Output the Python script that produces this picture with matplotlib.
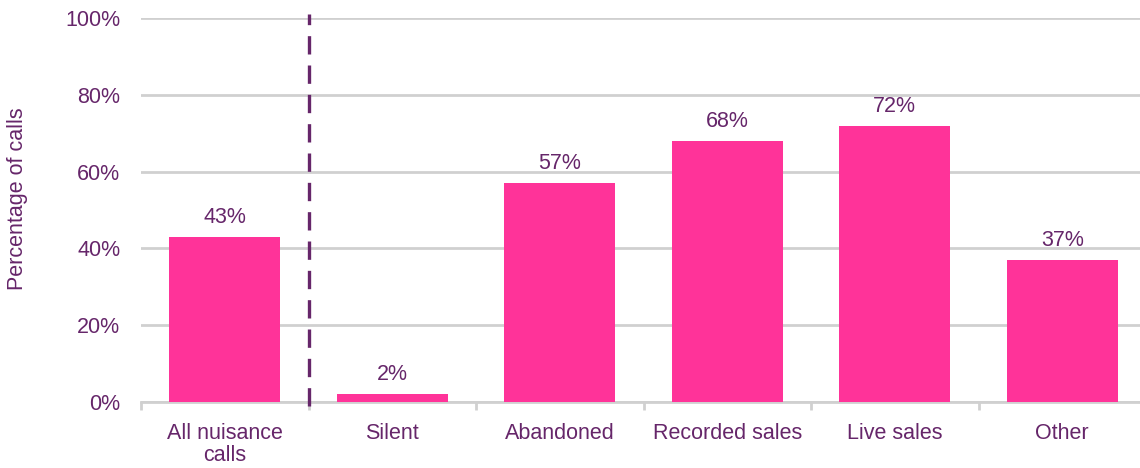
import matplotlib.pyplot as plt
import numpy as np

categories = ["All nuisance\ncalls", "Silent", "Abandoned", "Recorded sales", "Live sales", "Other"]
percentages = [43, 2, 57, 68, 72, 37]
yticks = [0, 20, 40, 60, 80, 100]

pink = "#FF3399"
purple = "#66266A"
grid_grey = "#D0D0D0"

plt.rcParams["font.family"] = ["Liberation Sans", "DejaVu Sans"]

fig = plt.figure(figsize=(11.4, 4.68), dpi=100)
ax = fig.add_axes([141 / 1140, (468 - 402) / 468, 1005 / 1140, 384 / 468])

x = np.arange(len(categories))
ax.bar(x, percentages, width=0.66, color=pink, zorder=3)

for xi, v in zip(x, percentages):
    ax.text(xi, v + 2.3, f"{v}%", ha="center", va="bottom", fontsize=15.5, color=purple)

ax.set_xlim(-0.5, len(categories) - 0.5)
ax.set_ylim(0, 100)
ax.set_yticks(yticks)
ax.set_yticklabels([f"{t}%" for t in yticks], fontsize=15.5, color=purple)
ax.set_xticks(x)
ax.set_xticklabels(categories, fontsize=15.5, color=purple, linespacing=1.1)
ax.set_xticks(np.arange(len(categories) + 1) - 0.5, minor=True)

ax.tick_params(axis="y", length=0, pad=15)
ax.tick_params(axis="x", which="major", length=0, pad=15)
ax.tick_params(axis="x", which="minor", length=6, width=2, color=grid_grey)

ax.yaxis.grid(True, color=grid_grey, linewidth=2, zorder=0)
for side in ["top", "right", "left"]:
    ax.spines[side].set_visible(False)
ax.spines["bottom"].set_color(grid_grey)
ax.spines["bottom"].set_linewidth(2)

# divider between the overall figure and the breakdown by type
ax.plot([0.5, 0.5], [-1, 101], color=purple, linewidth=2.4, linestyle=(0, (5.5, 3.3)),
        clip_on=False, zorder=4)

ax.set_ylabel("Percentage of calls", fontsize=15.5, color=purple)
ax.yaxis.set_label_coords(-0.112, 0.53)

fig.savefig("out.png", dpi=100)
